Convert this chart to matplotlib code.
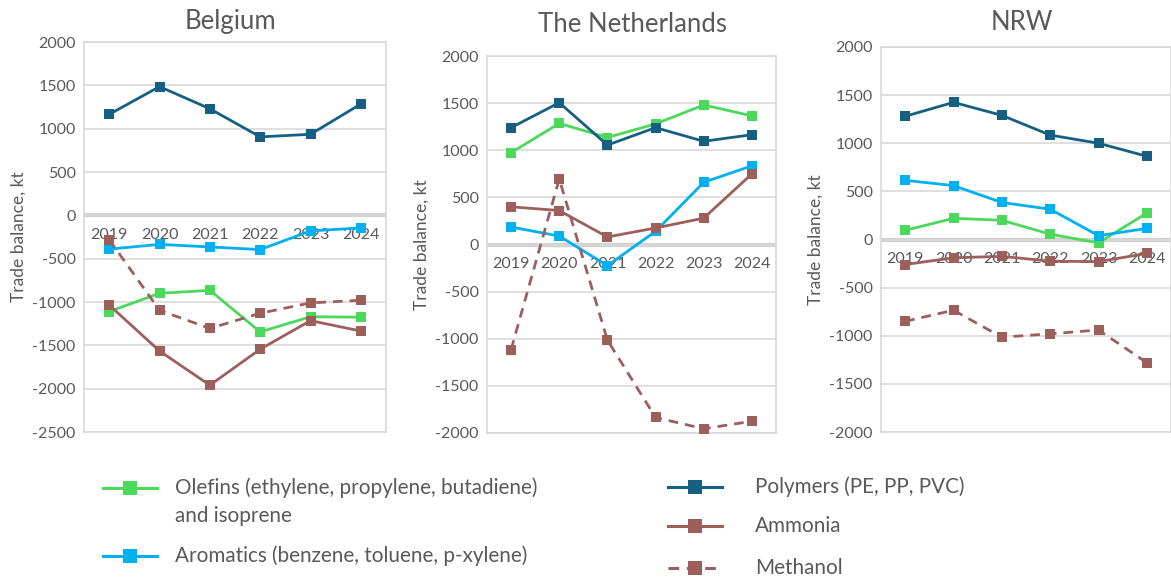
import numpy as np
import matplotlib
matplotlib.use("Agg")
import matplotlib.pyplot as plt
from matplotlib.lines import Line2D

plt.rcParams['font.family'] = ['Lato', 'DejaVu Sans']
plt.rcParams['axes.unicode_minus'] = False

## data (kt)
years = ['2019', '2020', '2021', '2022', '2023', '2024']
regions = ['Belgium', 'The Netherlands', 'NRW']

olefins = {
    'Belgium': [-1110, -900, -865, -1345, -1170, -1175],
    'The Netherlands': [975, 1285, 1135, 1280, 1480, 1365],
    'NRW': [95, 220, 200, 55, -35, 275],
}
aromatics = {
    'Belgium': [-390, -335, -365, -395, -180, -145],
    'The Netherlands': [185, 90, -225, 140, 660, 835],
    'NRW': [615, 560, 385, 315, 40, 115],
}
polymers = {
    'Belgium': [1165, 1485, 1230, 905, 935, 1285],
    'The Netherlands': [1240, 1505, 1055, 1240, 1095, 1165],
    'NRW': [1280, 1425, 1290, 1085, 1000, 865],
}
ammonia = {
    'Belgium': [-1035, -1565, -1960, -1545, -1215, -1335],
    'The Netherlands': [400, 360, 80, 175, 280, 750],
    'NRW': [-260, -190, -175, -225, -230, -145],
}
methanol = {
    'Belgium': [-280, -1095, -1305, -1130, -1010, -980],
    'The Netherlands': [-1115, 695, -1015, -1835, -1955, -1875],
    'NRW': [-850, -735, -1015, -980, -940, -1280],
}

ylims = {'Belgium': (-2500, 2000), 'The Netherlands': (-2000, 2000), 'NRW': (-2000, 2000)}

# series: label, data, colour, linestyle
series = [
    ('Olefins (ethylene, propylene, butadiene)\nand isoprene', olefins, '#4CD85A', '-'),
    ('Aromatics (benzene, toluene, p-xylene)', aromatics, '#00B0F0', '-'),
    ('Polymers (PE, PP, PVC)', polymers, '#156082', '-'),
    ('Ammonia', ammonia, '#9C5F5C', '-'),
    ('Methanol', methanol, '#9C5F5C', (0, (3.5, 2.5))),
]

text_col = '#595959'
grid_col = '#D9D9D9'

W, H = 1171, 579
fig = plt.figure(figsize=(W / 100, H / 100), dpi=100)

# axes boxes in pixels: left, top, right, bottom ; title centre (x, y)
boxes = {
    'Belgium': (84, 42, 386, 432),
    'The Netherlands': (487, 56, 776, 433),
    'NRW': (881, 47, 1171, 432),
}
title_pos = {'Belgium': (230, 22), 'The Netherlands': (633, 25), 'NRW': (1022, 22)}

x = np.arange(len(years))
for reg in regions:
    l, t, r, b = boxes[reg]
    ax = fig.add_axes([l / W, 1 - b / H, (r - l) / W, (b - t) / H])
    for label, data, col, ls in series:
        ax.plot(x, data[reg], color=col, lw=2, ls=ls, marker='s', ms=6.5,
                markeredgewidth=0, zorder=3)
    lo, hi = ylims[reg]
    ax.set_ylim(lo, hi)
    ax.set_xlim(-0.5, len(years) - 0.5)
    ax.set_yticks(np.arange(lo, hi + 1, 500))
    ax.tick_params(axis='y', length=0, labelsize=11.5, labelcolor=text_col, pad=6)
    ax.grid(axis='y', color=grid_col, lw=1.2, zorder=0)
    for s in ax.spines.values():
        s.set_color(grid_col)
        s.set_linewidth(1.2)
    ax.set_xticks([])
    # zero line with the year labels hanging just below it
    ax.axhline(0, color='#D0D0D0', lw=3, zorder=1)
    for i, yr in enumerate(years):
        ax.annotate(yr, (i, 0), xytext=(0, -9), textcoords='offset points',
                    ha='center', va='top', fontsize=11.5, color=text_col, zorder=2)
    ax.set_ylabel('Trade balance, kt', fontsize=12.5, color=text_col, labelpad=4)
    tx, ty = title_pos[reg]
    fig.text(tx / W, 1 - ty / H, reg, fontsize=18.5, color=text_col,
             ha='center', va='center')

# legend drawn by hand, Excel-like (marker aligned with first text line)
leg_rows = [
    (0, 103, 488), (1, 103, 556),
    (2, 668, 487), (3, 668, 526), (4, 668, 568),
]
text_dx = {103: 72, 668: 87}
for idx, xl, yl in leg_rows:
    label, data, col, ls = series[idx]
    xs = np.array([xl, xl + 27, xl + 54]) / W
    ys = np.full(3, 1 - yl / H)
    fig.add_artist(Line2D(xs, ys, color=col, lw=2.2, ls=ls, transform=fig.transFigure))
    fig.add_artist(Line2D([xs[1]], [ys[1]], color=col, marker='s', ms=10,
                          markeredgewidth=0, transform=fig.transFigure))
    if '\n' in label:
        fig.text((xl + text_dx[xl]) / W, 1 - (yl - 11) / H, label, fontsize=14.9,
                 color=text_col, va='top', linespacing=1.5)
    else:
        fig.text((xl + text_dx[xl]) / W, 1 - yl / H, label, fontsize=14.9,
                 color=text_col, va='center')

fig.savefig('out.png', dpi=100)
